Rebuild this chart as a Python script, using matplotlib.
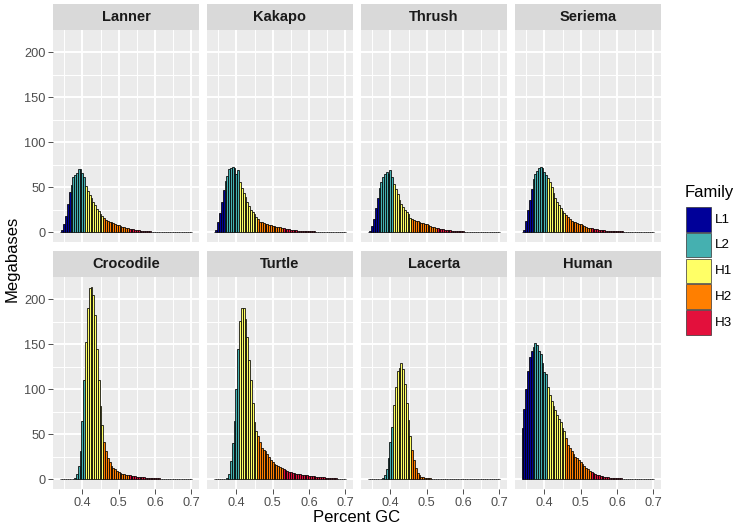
import numpy as np
import matplotlib.pyplot as plt
from matplotlib.patches import Rectangle

plt.rcParams['font.family'] = ['Liberation Sans', 'DejaVu Sans']

# bin centres (percent GC), bin width 0.005
gc = np.round(np.arange(0.34, 0.7001, 0.005), 3)
bin_w = 0.005

lanner = [0.5, 3, 9, 18, 32, 45, 53, 61, 64, 66,
          70, 70, 66, 61, 52, 46, 42, 38, 34, 30,
          26, 23.5, 20.5, 18, 15.5, 14, 13, 12, 11, 10,
          9, 8.3, 7.7, 7.1, 6.4, 5.7, 5.1, 4.6, 4, 3.6,
          3.3, 3, 2.6, 2.2, 2, 1.8, 1.6, 1.4, 1.2, 1.0,
          0.9, 0.9, 0.8, 0.8, 0.7, 0.7, 0.6, 0.6, 0.6, 0.5,
          0.5, 0.5, 0.4, 0.4, 0.4, 0.4, 0.3, 0.3, 0.3, 0.3,
          0.2, 0.2, 0.2]
kakapo = [0.5, 3, 11, 22, 34, 47, 57, 63, 70, 72,
          73, 71, 65, 69, 56, 49, 44, 39, 34, 29,
          25, 23, 20, 17, 15, 11.5, 11, 10.2, 9.6, 9,
          8.4, 8, 7.5, 6.9, 6.4, 6, 5.5, 5.2, 4.5, 4,
          3.5, 3.2, 3, 2.7, 2.4, 2.1, 1.9, 1.8, 1.7, 1.5,
          1.4, 1.3, 1.2, 1.1, 1.1, 1.0, 0.9, 0.9, 0.8, 0.8,
          0.7, 0.7, 0.6, 0.6, 0.6, 0.5, 0.5, 0.5, 0.4, 0.4,
          0.4, 0.4, 0.3]
thrush = [0.3, 2, 7, 15, 27, 38, 49, 56, 61.5, 65,
          67, 65, 69, 62, 54, 48, 43, 36, 32, 28,
          24.5, 22.6, 20, 16, 14.5, 13.8, 13, 12.3, 11.5, 10.7,
          10.5, 9.6, 8.9, 8, 7, 6.4, 5.8, 5.4, 4.9, 4.2,
          3.8, 3.4, 3, 2.7, 2.4, 2.2, 2, 1.8, 1.6, 1.4,
          1.2, 1.1, 1.0, 0.9, 0.8, 0.8, 0.7, 0.7, 0.6, 0.6,
          0.5, 0.5, 0.5, 0.4, 0.4, 0.4, 0.4, 0.3, 0.3, 0.3,
          0.3, 0.3, 0.2]
seriema = [0.5, 3, 13, 25, 36, 48, 59, 65, 68, 71,
           73, 72, 67, 64, 60, 56, 50, 44, 38, 34,
           30, 26.5, 24, 21, 19.5, 17, 15, 13, 12, 11.2,
           10.4, 9.7, 9, 8.2, 7.1, 6.3, 5.4, 4.9, 4.4, 4,
           3.6, 3.2, 2.9, 2.6, 2.3, 2.1, 1.9, 1.7, 1.5, 1.4,
           1.3, 1.2, 1.1, 1.1, 1.0, 1.0, 0.9, 0.9, 0.8, 0.8,
           0.7, 0.7, 0.6, 0.6, 0.6, 0.5, 0.5, 0.5, 0.4, 0.4,
           0.4, 0.4, 0.3]
crocodile = [0, 0, 0, 0, 0.1, 0.2, 0.4, 0.8, 2, 6,
             15, 32, 65, 110, 152, 190, 212, 214, 205, 182,
             145, 110, 82, 60, 42, 32, 24, 19, 15, 12.5,
             11, 9.5, 8.3, 7.3, 6.5, 5.8, 5.2, 4.7, 4.3, 4,
             3.7, 3.4, 3.1, 2.8, 2.5, 2.3, 2.1, 1.9, 1.7, 1.5,
             1.4, 1.3, 1.2, 1.1, 1.0, 0.9, 0.9, 0.8, 0.7, 0.7,
             0.6, 0.6, 0.5, 0.5, 0.4, 0.4, 0.4, 0.3, 0.3, 0.3,
             0.2, 0.2, 0.2]
turtle = [0, 0, 0, 0.1, 0.2, 0.4, 0.8, 1.5, 6, 20,
          40, 65, 100, 145, 176, 190, 190, 178, 158, 133,
          110, 85, 64, 54, 48, 41, 35, 33, 31, 28.5,
          25, 21, 19, 17.5, 16, 15, 14, 12.5, 11, 10,
          9.3, 8.7, 8.1, 7.6, 7, 6.5, 6, 5.7, 5.4, 5.1,
          4.7, 4.3, 4, 3.7, 3.5, 3.2, 3, 2.8, 2.6, 2.4,
          2.2, 2, 1.8, 1.6, 1.4, 1.2, 1.1, 1, 0.9, 0.8,
          0.7, 0.6, 0.5]
lacerta = [0, 0, 0, 0, 0, 0, 0.2, 0.6, 1.5, 5,
           12, 24, 41, 58, 83, 103, 120, 124, 129, 122,
           106, 85, 66, 48, 33, 22, 12.5, 7.5, 4.8, 3,
           2.2, 1.7, 1.4, 1.2, 1.0, 0.9, 0.8, 0.7, 0.6, 0.5,
           0.5, 0.4, 0.4, 0.3, 0.3, 0.3, 0.2, 0.2, 0.2, 0.2,
           0.1, 0.1, 0.1, 0.1, 0.1, 0.1, 0.1, 0.1, 0.1, 0.1,
           0.1, 0.1, 0.1, 0, 0, 0, 0, 0, 0, 0,
           0, 0, 0]
human = [57, 78, 100, 120, 136, 143, 147, 151, 149, 143,
         139, 129, 119, 117, 103, 94, 87, 82, 77, 71,
         67, 64, 57, 54, 46, 38, 35, 32, 28, 25,
         23.5, 21.5, 19.5, 17, 15, 13, 11, 9.5, 8.2, 7,
         6, 5, 4.3, 3.7, 3.2, 2.8, 2.4, 2.1, 1.9, 1.7,
         1.5, 1.3, 1.2, 1.1, 1.0, 0.9, 0.8, 0.8, 0.7, 0.7,
         0.6, 0.6, 0.5, 0.5, 0.4, 0.4, 0.4, 0.3, 0.3, 0.3,
         0.2, 0.2, 0.2]

species = ['Lanner', 'Kakapo', 'Thrush', 'Seriema',
           'Crocodile', 'Turtle', 'Lacerta', 'Human']
megabases = [lanner, kakapo, thrush, seriema,
             crocodile, turtle, lacerta, human]

family_names = ['L1', 'L2', 'H1', 'H2', 'H3']
family_colors = ['#000099', '#45B0B0', '#FFFF66', '#FF7F00', '#E3103C']
family_cuts = [0.37, 0.41, 0.46, 0.53]

fam_idx = np.searchsorted(family_cuts, gc, side='right')
bar_colors = [family_colors[i] for i in fam_idx]

W, H = 740, 529
fig = plt.figure(figsize=(W / 100, H / 100), dpi=100)


def box(left, top, width, height):
    return [left / W, 1 - (top + height) / H, width / W, height / H]


col_left = [53, 207, 361, 515]
panel_w = 146
row_top = [30, 277]
panel_h = 212
strip_h = 26

ymax = max(max(v) for v in megabases)
ylim = (-0.05 * ymax, 1.05 * ymax)
lo, hi = gc[0] - bin_w / 2, gc[-1] + bin_w / 2
xlim = (lo - 0.05 * (hi - lo), hi + 0.05 * (hi - lo))

for k, (name, vals) in enumerate(zip(species, megabases)):
    r, c = divmod(k, 4)
    ax = fig.add_axes(box(col_left[c], row_top[r], panel_w, panel_h))
    ax.set_facecolor('#EBEBEB')
    ax.bar(gc, vals, width=bin_w, color=bar_colors, edgecolor='black',
           linewidth=0.55, zorder=3)
    ax.set_xlim(xlim)
    ax.set_ylim(ylim)
    ax.set_xticks([0.4, 0.5, 0.6, 0.7])
    ax.set_xticklabels(['0.4', '0.5', '0.6', '0.7'])
    ax.set_xticks([0.35, 0.45, 0.55, 0.65], minor=True)
    ax.set_yticks([0, 50, 100, 150, 200])
    ax.set_yticks([25, 75, 125, 175], minor=True)
    ax.grid(which='major', color='white', linewidth=1.4, zorder=0)
    ax.grid(which='minor', color='white', linewidth=0.7, zorder=0)
    ax.set_axisbelow(True)
    for s in ax.spines.values():
        s.set_visible(False)
    ax.tick_params(which='minor', length=0)
    ax.tick_params(which='major', length=3.5, width=0.6, color='#333333',
                   labelcolor='#4D4D4D', labelsize=9.2, pad=2)
    if c != 0:
        ax.tick_params(left=False, labelleft=False)
    if r == 0:
        ax.tick_params(bottom=False, labelbottom=False)

    sax = fig.add_axes(box(col_left[c], row_top[r] - strip_h, panel_w, strip_h))
    sax.set_facecolor('#D9D9D9')
    sax.set_xticks([])
    sax.set_yticks([])
    for s in sax.spines.values():
        s.set_visible(False)
    sax.text(0.5, 0.5, name, ha='center', va='center', fontsize=10.5,
             fontweight='bold', color='#1A1A1A', transform=sax.transAxes)

fig.text(357 / W, 1 - 517 / H, 'Percent GC', ha='center', va='center',
         fontsize=12, color='black')
fig.text(12 / W, 1 - 259 / H, 'Megabases', ha='center', va='center',
         rotation=90, fontsize=12, color='black')

# legend
fig.text(685 / W, 1 - 192 / H, 'Family', ha='left', va='center',
         fontsize=12, color='black')
for i, (lab, colr) in enumerate(zip(family_names, family_colors)):
    top = 207 + i * 25.8
    fig.patches.append(Rectangle((686 / W, 1 - (top + 24.5) / H), 24.5 / W, 24.5 / H,
                                 facecolor=colr, edgecolor='#333333', linewidth=0.5,
                                 transform=fig.transFigure, figure=fig))
    fig.text(715 / W, 1 - (top + 12.5) / H, lab, ha='left', va='center',
             fontsize=9.6, color='black')

fig.savefig('out.png', dpi=100)
